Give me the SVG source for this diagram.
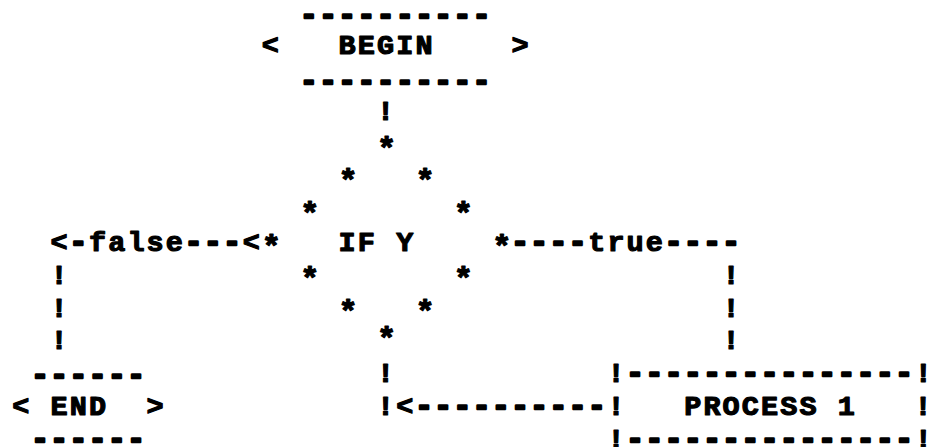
<svg xmlns="http://www.w3.org/2000/svg" width="934" height="447" viewBox="0 0 934 447">
<style>
.t{font-family:"Liberation Mono","DejaVu Sans Mono",monospace;font-size:28.5px;letter-spacing:2.1px;font-weight:bold;fill:#000;stroke:#000;stroke-width:1.2px;stroke-linejoin:round}
.d{stroke-width:2.6px}
.a{font-size:32px;letter-spacing:0;text-anchor:middle;stroke-width:1.2px}
</style>
<rect width="934" height="447" fill="#fff"/>
<g id="begin" class="t">
<text class="d" x="300.2" y="23.8">----------</text>
<text x="261.8" y="54.2">&lt;</text>
<text x="338.6" y="54.2">BEGIN</text>
<text x="511.4" y="54.2">&gt;</text>
<text class="d" x="300.2" y="89.5">----------</text>
</g>
<g id="decision" class="t">
<text class="a" x="386.6" y="159">*</text>
<text class="a" x="348.2" y="191">*</text>
<text class="a" x="425" y="191">*</text>
<text class="a" x="309.8" y="224">*</text>
<text class="a" x="463.4" y="224">*</text>
<text class="a" x="271.4" y="257">*</text>
<text x="338.6" y="251">IF Y</text>
<text class="a" x="501.8" y="257">*</text>
<text class="a" x="309.8" y="289">*</text>
<text class="a" x="463.4" y="289">*</text>
<text class="a" x="348.2" y="322">*</text>
<text class="a" x="425" y="322">*</text>
<text class="a" x="386.6" y="349">*</text>
</g>
<g id="end" class="t">
<text class="d" x="31.4" y="384">------</text>
<text x="12.2" y="415">&lt;</text>
<text x="50.6" y="415">END</text>
<text x="146.6" y="415">&gt;</text>
<text class="d" x="31.4" y="447.8">------</text>
</g>
<g id="process1" class="t">
<text x="607.4" y="382.2">!<tspan class="d">---------------</tspan>!</text>
<text x="607.4" y="415">!</text>
<text x="684.2" y="415">PROCESS 1</text>
<text x="914.6" y="415">!</text>
<text x="607.4" y="447.8">!<tspan class="d">---------------</tspan>!</text>
</g>
<g id="connectors" class="t">
<text x="377" y="119.8">!</text>
<text x="50.6" y="251">&lt;<tspan class="d">-</tspan>false<tspan class="d">---</tspan>&lt;</text>
<text x="50.6" y="283.8">!</text>
<text x="50.6" y="316.6">!</text>
<text x="50.6" y="349.4">!</text>
<text x="511.4" y="251"><tspan class="d">----</tspan>true<tspan class="d">----</tspan></text>
<text x="722.6" y="283.8">!</text>
<text x="722.6" y="316.6">!</text>
<text x="722.6" y="349.4">!</text>
<text x="377" y="382.2">!</text>
<text x="377" y="415">!&lt;<tspan class="d">----------</tspan></text>
</g>
</svg>
